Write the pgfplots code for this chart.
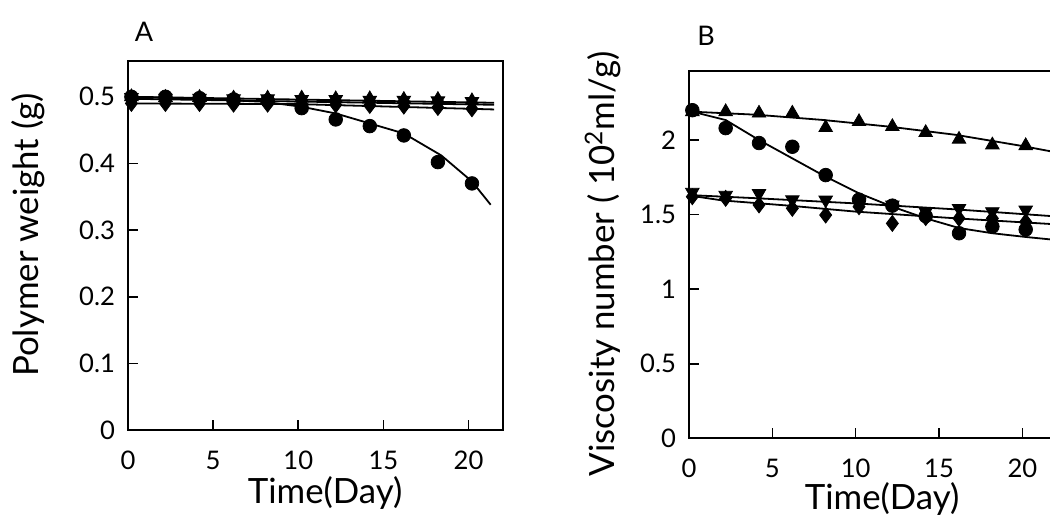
\documentclass[border=0pt]{standalone}
\usepackage{fontspec}
\setmainfont{Lato}
\usepackage{pgfplots}
\pgfplotsset{compat=1.18}

\newcommand{\labfont}{\fontsize{17.4}{20}\selectfont}
\pgfplotsset{
  panel/.style={
    scale only axis, anchor=south west,
    xmin=0, xmax=22, ymin=0,
    axis line style={line width=1pt},
    tick style={line width=0.8pt, black},
    tick align=inside, tick pos=left, major tick length=5pt,
    xtick={0,5,10,15,20},
    /pgf/number format/assume math mode=true,
    xticklabel style={font=\fontsize{12.8}{15}\selectfont, yshift=-7pt},
    yticklabel style={font=\fontsize{12.8}{15}\selectfont, xshift=-3pt},
    clip mode=individual,
  },
  fitline/.style={black, no markers, line width=0.9pt},
  pcirc/.style={black, only marks, mark=*, mark size=3.4pt},
  pup/.style={black, only marks, mark=triangle*, mark size=3.9pt},
  pdown/.style={black, only marks, mark=triangle*, mark size=3.9pt, mark options={rotate=180}},
  pdia/.style={black, only marks, mark=diamond*, mark size=4pt},
}

\begin{document}
\begin{tikzpicture}
\useasboundingbox (0,0) rectangle (525pt,259pt);
\clip (0,0) rectangle (525pt,259pt);

% panel A: polymer weight
\begin{axis}[panel,
  at={(64pt,44pt)}, width=187.3pt, height=184.6pt,
  ymax=0.554, ytick={0,0.1,0.2,0.3,0.4,0.5},
]
\addplot[fitline] coordinates {(0.2,0.500)(21.5,0.491)};
\addplot[fitline] coordinates {(0.2,0.497)(21.5,0.488)};
\addplot[fitline] coordinates {(0.2,0.490)(10,0.489)(21.5,0.481)};
\addplot[fitline] coordinates {(0.2,0.500)(4,0.497)(8,0.4925)(10.2,0.485)(12.2,0.475)(14.2,0.460)(16.2,0.445)(18.4,0.412)(20.2,0.373)(21.3,0.338)};
\addplot[pdia] coordinates {(0.2,0.490)(2.2,0.490)(4.2,0.490)(6.2,0.489)(8.2,0.489)(10.2,0.489)(12.2,0.488)(14.2,0.487)(16.2,0.486)(18.2,0.484)(20.2,0.482)};
\addplot[pup] coordinates {(0.2,0.500)(2.2,0.499)(4.2,0.499)(6.2,0.498)(8.2,0.498)(10.2,0.498)(12.2,0.497)(14.2,0.497)(16.2,0.496)(18.2,0.496)(20.2,0.494)};
\addplot[pdown] coordinates {(0.2,0.499)(2.2,0.498)(4.2,0.498)(6.2,0.497)(8.2,0.497)(10.2,0.496)(12.2,0.496)(14.2,0.495)(16.2,0.495)(18.2,0.494)(20.2,0.493)};
\addplot[pcirc] coordinates {(0.2,0.500)(2.2,0.500)(4.2,0.498)(6.2,0.496)(8.2,0.494)(10.2,0.483)(12.2,0.466)(14.2,0.456)(16.2,0.442)(18.2,0.402)(20.2,0.370)};
\end{axis}

% panel B: viscosity number
\begin{axis}[panel,
  at={(344.5pt,39.85pt)}, width=183.35pt, height=183.8pt,
  ymax=2.465, ytick={0,0.5,1,1.5,2},
]
\addplot[fitline] coordinates {(0.2,2.19)(4,2.17)(8,2.135)(12,2.09)(16,2.035)(20,1.96)(22,1.918)};
\addplot[fitline] coordinates {(0.2,2.19)(2.2,2.134)(4.2,2.0)(6.2,1.877)(8.2,1.754)(10.2,1.643)(12.2,1.553)(14.2,1.475)(16.2,1.41)(18.2,1.375)(20.2,1.35)(22,1.33)};
\addplot[fitline] coordinates {(0.2,1.63)(4,1.61)(10,1.575)(16,1.535)(22,1.488)};
\addplot[fitline] coordinates {(0.2,1.625)(2,1.595)(6,1.56)(10,1.52)(16,1.475)(22,1.435)};
\addplot[pdia] coordinates {(0.2,1.62)(2.2,1.609)(4.2,1.565)(6.2,1.542)(8.2,1.497)(10.2,1.553)(12.2,1.441)(14.2,1.48)(16.2,1.475)(18.2,1.475)(20.2,1.452)};
\addplot[pdown] coordinates {(0.2,1.65)(2.2,1.63)(4.2,1.642)(6.2,1.60)(8.2,1.598)(10.2,1.58)(12.2,1.565)(14.2,1.52)(16.2,1.542)(18.2,1.52)(20.2,1.531)};
\addplot[pup] coordinates {(0.2,2.19)(2.2,2.19)(4.2,2.18)(6.2,2.18)(8.2,2.083)(10.2,2.123)(12.2,2.09)(14.2,2.05)(16.2,2.005)(18.2,1.967)(20.2,1.962)};
\addplot[pcirc] coordinates {(0.2,2.20)(2.2,2.08)(4.2,1.98)(6.2,1.955)(8.2,1.765)(10.2,1.60)(12.2,1.56)(14.2,1.49)(16.2,1.375)(18.2,1.42)(20.2,1.40)};
\end{axis}

% panel letters and axis titles
\node[font=\fontsize{13.5}{16}\selectfont] at (72pt,243pt) {A};
\node[font=\fontsize{13.5}{16}\selectfont] at (353pt,241pt) {B};
\node[font=\labfont, rotate=90] at (14pt,141.5pt) {Polymer weight (g)};
\node[font=\labfont] at (162.5pt,12.5pt) {Time(Day)};
\node[font=\labfont, rotate=90] at (301.5pt,127pt) {Viscosity number ( 10\textsuperscript{2}ml/g)};
\node[font=\labfont] at (441pt,9.5pt) {Time(Day)};
\end{tikzpicture}
\end{document}
